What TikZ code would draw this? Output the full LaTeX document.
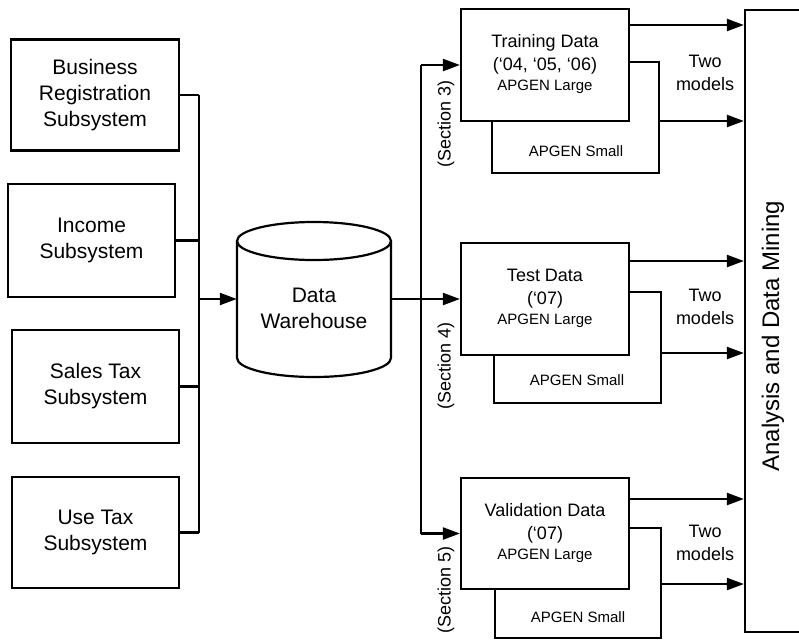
\documentclass[tikz,border=0pt]{standalone}
\usepackage{fontspec}
\setmainfont{Liberation Sans}
\usetikzlibrary{arrows.meta}
\tikzset{
  x=1pt, y=-1pt,
  ln/.style={line width=2.2pt, line join=miter},
  arr/.style={ln, -{Triangle[length=17pt,width=12pt]}},
  box/.style={ln, draw, fill=white, rectangle, inner sep=0pt, align=center},
  big/.style={font=\fontsize{21}{26}\selectfont},
  mid/.style={font=\fontsize{18}{23}\selectfont},
  sml/.style={font=\fontsize{15}{18}\selectfont},
  txt/.style={inner sep=0pt, align=center},
}
\begin{document}
\begin{tikzpicture}
\path[use as bounding box, clip] (0,0) rectangle (799,640);
\fill[white] (0,0) rectangle (799,640);

% left source boxes
\node[box, big, minimum width=168pt, minimum height=111pt] (biz) at (95,95) {Business\\Registration\\Subsystem};
\node[box, big, minimum width=167pt, minimum height=113pt] (inc) at (91.5,240.5) {Income\\Subsystem};
\node[box, big, minimum width=167pt, minimum height=113pt] (sal) at (95.5,386.5) {Sales Tax\\Subsystem};
\node[box, big, minimum width=167pt, minimum height=111pt] (use) at (95.5,532.5) {Use Tax\\Subsystem};
\coordinate (busx) at (199,0);

% data warehouse cylinder
\node[minimum width=154pt, minimum height=155pt, inner sep=0pt] (dw) at (314,299) {};
\filldraw[ln, fill=white] (237,241) -- (237,358) arc[start angle=180, end angle=0, x radius=77, y radius=19] -- (391,241);
\draw[ln] (314,241) ellipse [x radius=77, y radius=19];
\node[txt, big] (dwt) at (314,308) {Data\\Warehouse};

\draw[ln] (biz.east) -- (biz.east -| busx);
\draw[ln] (inc.east) -- (inc.east -| busx);
\draw[ln] (sal.east) -- (sal.east -| busx);
\draw[ln] (use.east) -- (use.east -| busx);
\draw[ln] (biz.east -| busx) -- (use.east -| busx);
\draw[arr] (dw.west -| busx) -- (dw.west);

% analysis box
\node[box, minimum width=90pt, minimum height=622pt] (an) at (790,321) {};
\node[txt, font=\fontsize{24}{28}\selectfont, rotate=90] (ant) at (773,336) {Analysis and Data Mining};

% small boxes (behind)
\node[box, minimum width=167pt, minimum height=111pt] (trs) at (575.5,117.5) {};
\node[box, minimum width=167pt, minimum height=111pt] (tes) at (577.5,347.5) {};
\node[box, minimum width=166pt, minimum height=110pt] (vas) at (578,583) {};
\node[txt, sml] (trst) at (576,151) {APGEN Small};
\node[txt, sml] (test) at (577,380) {APGEN Small};
\node[txt, sml] (vast) at (578,617) {APGEN Small};

% large data boxes
\node[box, minimum width=168pt, minimum height=112pt] (tr) at (545,65) {};
\node[txt, mid] (trt) at (545,64) {Training Data\\(‘04, ‘05, ‘06)\\[-3pt]\fontsize{15}{18}\selectfont APGEN Large};
\node[box, minimum width=168pt, minimum height=112pt] (te) at (545,299) {};
\node[txt, mid] (tet) at (545,298) {Test Data\\(‘07)\\[-3pt]\fontsize{15}{18}\selectfont APGEN Large};
\node[box, minimum width=168pt, minimum height=111pt] (va) at (545,533.5) {};
\node[txt, mid] (vat) at (545,533) {Validation Data\\(‘07)\\[-3pt]\fontsize{15}{18}\selectfont APGEN Large};

% distribution from warehouse
\coordinate (jx) at (421,0);
\draw[arr] (dw.east) -- (te.west);
\draw[ln] (tr.west -| jx) -- (va.west -| jx);
\draw[arr] (tr.west -| jx) -- (tr.west);
\draw[arr] (va.west -| jx) -- (va.west);

\node[txt, mid, rotate=90] (s3) at (446,124) {(Section 3)};
\node[txt, mid, rotate=90] (s4) at (446,366) {(Section 4)};
\node[txt, mid, rotate=90] (s5) at (446,590) {(Section 5)};

% model arrows to analysis
\coordinate (a1) at (629,25);  \coordinate (a2) at (659,121);
\coordinate (b1) at (629,261); \coordinate (b2) at (661,353);
\coordinate (c1) at (629,499); \coordinate (c2) at (661,584);
\draw[arr] (a1) -- (a1 -| an.west);
\draw[arr] (a2) -- (a2 -| an.west);
\draw[arr] (b1) -- (b1 -| an.west);
\draw[arr] (b2) -- (b2 -| an.west);
\draw[arr] (c1) -- (c1 -| an.west);
\draw[arr] (c2) -- (c2 -| an.west);

\node[txt, mid] (m1) at (705,73) {Two\\models};
\node[txt, mid] (m2) at (705,307) {Two\\models};
\node[txt, mid] (m3) at (705,543) {Two\\models};
\end{tikzpicture}
\end{document}
